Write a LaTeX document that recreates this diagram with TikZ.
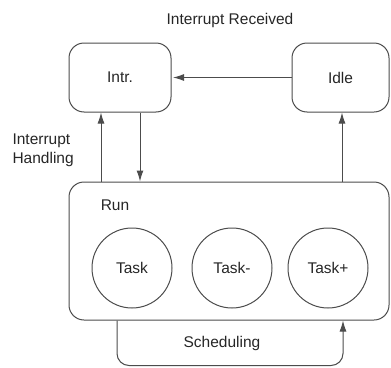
\documentclass[tikz,border=0pt]{standalone}
\usepackage{fontspec}
\setmainfont{Liberation Sans}
\usetikzlibrary{arrows.meta,shapes,positioning}
\tikzset{
  basic/.style  = {draw=black!70, line width=1pt, text=black!85,
                   font=\fontsize{15.5}{19}\selectfont},
  state/.style  = {basic, rectangle, rounded corners=15pt, inner sep=0pt},
  task/.style   = {basic, circle, minimum size=80pt, inner sep=0pt},
  label/.style  = {text=black!85, font=\fontsize{15.5}{19}\selectfont},
  trans/.style  = {->, draw=black!70, line width=1pt}
}

\begin{document}
\begin{tikzpicture}[x=1pt, y=-1pt,
  >={Latex[length=11pt,width=7pt]}]
\useasboundingbox (0,0) rectangle (391,367);

% top states
\node[state, minimum width=102pt, minimum height=69pt] (intr) at (120,77.5) {Intr.};
\node[state, minimum width=97pt, minimum height=69pt] (idle) at (340.5,77.5) {Idle};

% the run state with its tasks
\node[state, minimum width=320pt, minimum height=138pt] (run) at (229,251) {};
\node[label] (runtxt) at (115,205) {Run};
\node[task] (task) at (132,268) {Task};
\node[task] (taskm) at (232,268) {Task-};
\node[task] (taskp) at (328,268) {Task+};

% labels of the transitions
\node[label] (recv) at (230,20) {Interrupt Received};
\node[label, align=left, anchor=west] (handl) at (9,150) {Interrupt\\Handling};
\node[label] (sched) at (222,343) {Scheduling};

% transitions
\draw[trans] (idle.west) -- ([xshift=1.5pt]intr.east);
\draw[trans] ([xshift=-19pt]intr.south |- run.north) -- ([xshift=-19pt]intr.south);
\draw[trans] ([xshift=20pt]intr.south) -- ([xshift=20pt]intr.south |- run.north);
\draw[trans] ([xshift=1.5pt]idle.south |- run.north) -- ([xshift=1.5pt]idle.south);
\draw[trans, rounded corners=12pt] ([xshift=-112pt]run.south) -- ++(0,45)
  -| ([xshift=114pt]run.south);

\end{tikzpicture}
\end{document}
